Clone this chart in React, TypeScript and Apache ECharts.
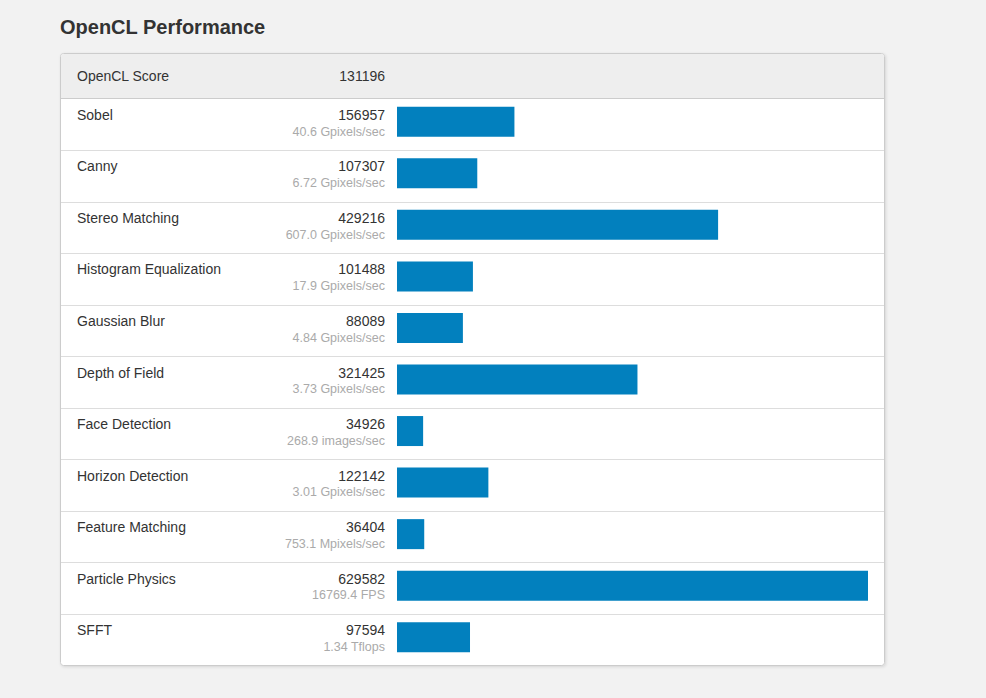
import React, { useEffect, useRef } from "react";
import * as echarts from "echarts";

const title = "OpenCL Performance";
const headerName = "OpenCL Score";
const headerScore = "131196";
const names = [
  "Sobel",
  "Canny",
  "Stereo Matching",
  "Histogram Equalization",
  "Gaussian Blur",
  "Depth of Field",
  "Face Detection",
  "Horizon Detection",
  "Feature Matching",
  "Particle Physics",
  "SFFT",
];
const scores = [156957, 107307, 429216, 101488, 88089, 321425, 34926, 122142, 36404, 629582, 97594];
const subs = [
  "40.6 Gpixels/sec",
  "6.72 Gpixels/sec",
  "607.0 Gpixels/sec",
  "17.9 Gpixels/sec",
  "4.84 Gpixels/sec",
  "3.73 Gpixels/sec",
  "268.9 images/sec",
  "3.01 Gpixels/sec",
  "753.1 Mpixels/sec",
  "16769.4 FPS",
  "1.34 Tflops",
];

export default function App() {
  const ref = useRef<HTMLDivElement>(null);
  useEffect(() => {
    if (!ref.current) return;
    const chart = echarts.init(ref.current, null, { renderer: "svg" });
    const FONT = "'Liberation Sans', Arial, Helvetica, sans-serif";
    const panelX = 60.5, panelY = 53.5, panelW = 824, panelH = 612;
    const headerBottom = 98.5;
    const rowH = (665.5 - 98.5) / names.length;
    const gfx: any[] = [];
    gfx.push({
      type: "rect",
      z: 0,
      shape: { x: panelX, y: panelY, width: panelW, height: panelH, r: 3 },
      style: { fill: "#ffffff", stroke: "#cccccc", lineWidth: 1, shadowBlur: 3, shadowOffsetY: 1, shadowOffsetX: 1, shadowColor: "rgba(0,0,0,0.12)" },
    });
    gfx.push({
      type: "rect",
      z: 1,
      shape: { x: panelX + 0.5, y: panelY + 0.5, width: panelW - 1, height: headerBottom - panelY - 0.5, r: [3, 3, 0, 0] },
      style: { fill: "#eeeeee" },
    });
    gfx.push({
      type: "line",
      z: 1,
      shape: { x1: panelX, y1: headerBottom, x2: panelX + panelW, y2: headerBottom },
      style: { stroke: "#cccccc", lineWidth: 1 },
    });
    const txt = (text: string, x: number, y: number, size: number, color: string, align: string, weight = "normal") => ({
      type: "text",
      z: 3,
      style: {
        text,
        x,
        y,
        fill: color,
        font: `${weight} ${size}px ${FONT}`,
        textAlign: align,
        textVerticalAlign: "middle",
        align,
        verticalAlign: "middle",
      },
    });
    gfx.push(txt(title, 60, 27, 20, "#333333", "left", "bold"));
    gfx.push(txt(headerName, 77, 76, 14, "#333333", "left"));
    gfx.push(txt(headerScore, 385, 76, 14, "#333333", "right"));
    names.forEach((n, i) => {
      const top = headerBottom + i * rowH;
      if (i > 0) {
        gfx.push({
          type: "line",
          z: 1,
          shape: { x1: panelX + 0.5, y1: Math.round(top) + 0.5, x2: panelX + panelW - 0.5, y2: Math.round(top) + 0.5 },
          style: { stroke: "#dddddd", lineWidth: 1 },
        });
      }
      gfx.push(txt(n, 77, top + 16.3, 14, "#333333", "left"));
      gfx.push(txt(String(scores[i]), 385, top + 16.3, 14, "#333333", "right"));
      gfx.push(txt(subs[i], 385, top + 33, 12.5, "#aaaaaa", "right"));
    });

    chart.setOption({
      animation: false,
      backgroundColor: "#f2f2f2",
      grid: { left: 397, top: 96, width: 471, height: rowH * names.length, containLabel: false },
      xAxis: {
        type: "value",
        min: 0,
        max: 629582,
        show: false,
      },
      yAxis: {
        type: "category",
        data: names,
        inverse: true,
        show: false,
      },
      series: [
        {
          type: "bar",
          data: scores,
          barWidth: 30,
          z: 5,
          itemStyle: { color: "#0280be" },
          silent: true,
        },
      ],
      graphic: { elements: gfx },
    });
    return () => chart.dispose();
  }, []);
  return <div ref={ref} style={{ position: "fixed", left: 0, top: 0, width: 986, height: 698 }} />;
}
